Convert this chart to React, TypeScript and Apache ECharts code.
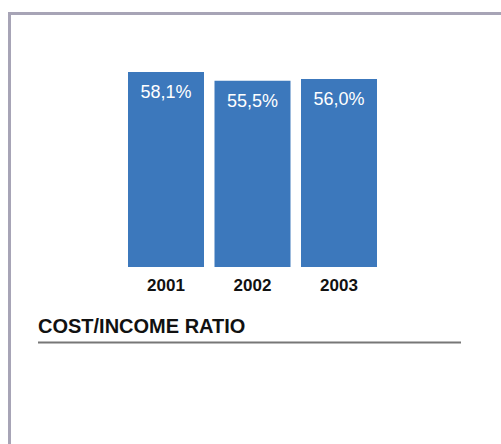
import React, { useEffect, useRef } from "react";
import * as echarts from "echarts";

const categories = ["2001", "2002", "2003"];
const values = [58.1, 55.5, 56.0];
const labels = ["58,1%", "55,5%", "56,0%"];
const title = "COST/INCOME RATIO";

export default function App() {
  const ref = useRef<HTMLDivElement>(null);
  useEffect(() => {
    const chart = echarts.init(ref.current!, null, { renderer: "svg" });
    chart.setOption({
      animation: false,
      backgroundColor: "#ffffff",
      grid: { left: 122.75, width: 259.5, top: 65.6, bottom: 444 - 267 },
      xAxis: {
        type: "category",
        data: categories,
        axisLine: { show: false },
        axisTick: { show: false },
        axisLabel: {
          color: "#111",
          fontWeight: "bold",
          fontSize: 17,
          fontFamily: "Liberation Sans, Arial, sans-serif",
          margin: 10,
        },
      },
      yAxis: { type: "value", min: 0, max: 60, show: false },
      series: [
        {
          type: "bar",
          data: values,
          barWidth: 76,
          itemStyle: { color: "#3c78bc" },
          label: {
            show: true,
            position: "insideTop",
            distance: 11,
            color: "#ffffff",
            fontSize: 18,
            fontFamily: "Liberation Sans, Arial, sans-serif",
            formatter: (p: any) => labels[p.dataIndex],
          },
        },
      ],
      graphic: [
        { type: "line", shape: { x1: 8, y1: 13.5, x2: 501, y2: 13.5 }, style: { stroke: "#a7a4b6", lineWidth: 3 } },
        { type: "line", shape: { x1: 9.5, y1: 12, x2: 9.5, y2: 444 }, style: { stroke: "#a7a4b6", lineWidth: 3 } },
        {
          type: "text",
          left: 38,
          top: 316,
          style: {
            text: title,
            fill: "#111",
            fontSize: 20,
            fontWeight: "bold",
            fontFamily: "Liberation Sans, Arial, sans-serif",
          },
        },
        { type: "line", shape: { x1: 38, y1: 342.5, x2: 461, y2: 342.5 }, style: { stroke: "#777777", lineWidth: 2 } },
      ],
    });
    return () => chart.dispose();
  }, []);
  return <div ref={ref} style={{ position: "absolute", left: 0, top: 0, width: 501, height: 444 }} />;
}
